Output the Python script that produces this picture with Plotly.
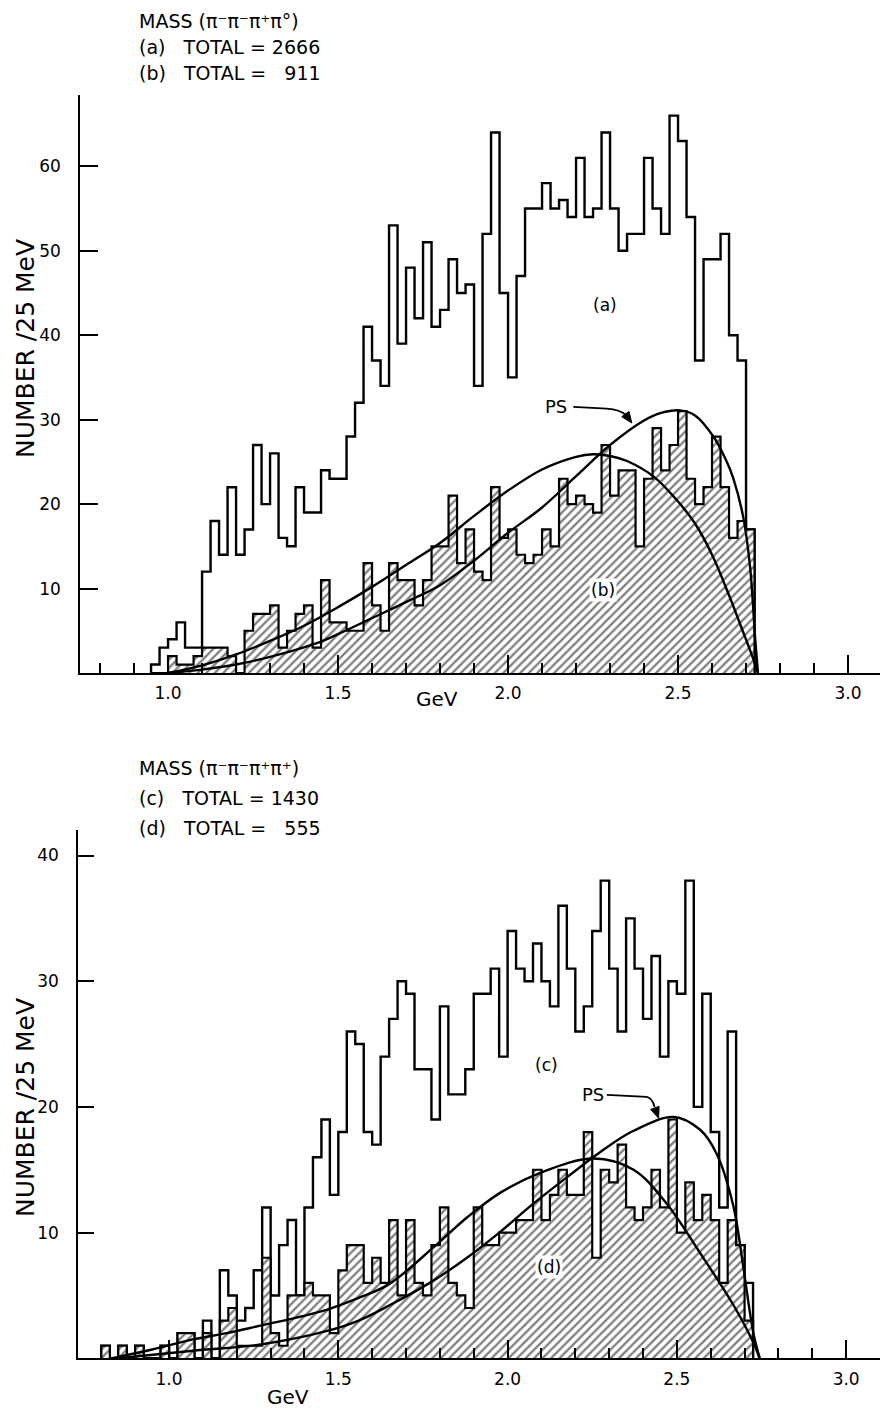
import plotly.graph_objects as go

# ---------------- data ----------------
BIN_WIDTH = 0.025          # GeV (25 MeV bins)
TOP_START = 0.95           # first bin edge, upper panel
BOT_START = 0.80           # first bin edge, lower panel

# (a) pi- pi- pi+ pi0 , total 2666
a_counts = [1, 3, 4, 6, 3, 3, 12, 18, 14, 22, 14, 17, 27, 20, 26, 16, 15, 22,
            19, 19, 24, 23, 23, 28, 32, 41, 37, 34, 53, 39, 48, 42, 51, 41,
            43, 49, 45, 46, 34, 52, 64, 45, 35, 47, 55, 55, 58, 55, 56, 54,
            61, 54, 55, 64, 55, 50, 52, 52, 61, 55, 52, 66, 63, 54, 37, 49,
            49, 52, 40, 37, 17]
# (b) subset, total 911
b_counts = [0, 0, 2, 1, 1, 2, 3, 3, 3, 2, 0, 5, 7, 7, 8, 3, 5, 7,
            8, 3, 11, 6, 6, 5, 5, 13, 8, 5, 13, 11, 11, 8, 11, 15,
            15, 21, 13, 17, 12, 11, 22, 16, 17, 14, 13, 14, 17, 15, 23, 20,
            21, 20, 19, 27, 21, 24, 24, 15, 23, 29, 24, 27, 31, 23, 20, 22,
            28, 22, 16, 18, 17]
# (c) pi- pi- pi+ pi+ , total 1430
c_counts = [1, 0, 1, 0, 1, 0, 0, 1, 0, 2, 2, 0, 3, 0, 7, 5, 3, 4,
            7, 12, 5, 9, 11, 5, 12, 16, 19, 13, 18, 26, 25, 18, 17, 24,
            27, 30, 29, 23, 23, 19, 28, 21, 21, 23, 29, 29, 31, 24, 34, 31,
            30, 33, 30, 28, 36, 31, 26, 28, 34, 38, 31, 26, 35, 31, 27, 32,
            24, 30, 29, 38, 20, 29, 18, 12, 26, 9, 6]
# (d) subset, total 555
d_counts = [1, 0, 1, 0, 1, 0, 0, 1, 0, 2, 2, 0, 2, 0, 3, 4, 1, 1,
            1, 8, 2, 1, 5, 5, 6, 5, 5, 2, 7, 9, 9, 6, 8, 6,
            11, 5, 11, 6, 5, 9, 12, 6, 5, 4, 12, 9, 9, 10, 10, 11,
            11, 15, 11, 13, 15, 13, 13, 18, 8, 15, 14, 17, 12, 11, 12, 15,
            12, 19, 10, 14, 11, 13, 11, 6, 11, 9, 3]

# smooth curves
top_wide_x = [1.00, 1.10, 1.20, 1.30, 1.40, 1.50, 1.60, 1.70, 1.80, 1.90, 2.00, 2.10,
              2.20, 2.25, 2.30, 2.35, 2.43, 2.50, 2.55, 2.60, 2.65, 2.69, 2.72, 2.735]
top_wide_y = [0.0, 0.9, 2.2, 3.8, 5.6, 7.8, 10.2, 12.8, 15.4, 18.6, 21.6, 24.1,
              25.6, 25.9, 25.7, 25.1, 23.2, 20.3, 17.7, 14.0, 9.2, 5.0, 1.8, 0.0]
top_ps_x = [1.00, 1.10, 1.20, 1.30, 1.435, 1.50, 1.60, 1.70, 1.80, 1.90, 2.00, 2.10,
            2.20, 2.30, 2.40, 2.45, 2.506, 2.55, 2.604, 2.64, 2.663, 2.692, 2.712, 2.727, 2.735]
top_ps_y = [0.0, 0.4, 1.0, 1.9, 3.5, 4.6, 6.5, 8.4, 10.4, 13.3, 16.6, 19.6,
            23.3, 27.0, 29.9, 30.8, 31.1, 30.5, 28.0, 25.3, 23.0, 18.4, 12.5, 4.0, 0.0]
bot_wide_x = [0.83, 0.95, 1.07, 1.17, 1.27, 1.37, 1.47, 1.56, 1.65, 1.78, 1.88, 1.98,
              2.10, 2.254, 2.372, 2.47, 2.568, 2.67, 2.73, 2.744]
bot_wide_y = [0.0, 0.7, 1.5, 2.0, 2.6, 3.2, 3.9, 4.8, 5.9, 8.8, 11.2, 13.2,
              14.8, 15.9, 15.0, 12.3, 8.4, 4.1, 1.0, 0.0]
bot_ps_x = [0.85, 1.07, 1.27, 1.47, 1.56, 1.65, 1.77, 1.88, 1.98, 2.076, 2.18, 2.273,
            2.372, 2.49, 2.568, 2.617, 2.667, 2.696, 2.726, 2.745]
bot_ps_y = [0.0, 0.6, 1.1, 2.2, 3.0, 4.2, 6.0, 8.0, 10.1, 12.3, 14.5, 16.4,
            18.1, 19.2, 18.2, 16.3, 12.1, 7.3, 2.0, 0.0]

x_tick_vals = [1.0, 1.5, 2.0, 2.5, 3.0]
x_tick_text = ["1.0", "1.5", "2.0", "2.5", "3.0"]
top_y_ticks = [10, 20, 30, 40, 50, 60]
bot_y_ticks = [10, 20, 30, 40]

# ---------------- layout geometry (pixels) ----------------
W, H = 882, 1412
FONT = "DejaVu Sans"
TOP_X_RANGE = [0.741, 3.094]
TOP_Y_RANGE = [0, 68.44]
BOT_X_RANGE = [0.731, 3.100]
BOT_Y_RANGE = [0, 42.03]
TOP_PIX = dict(x0=80, x1=880, y0=673, y1=95)
BOT_PIX = dict(x0=78, x1=880, y0=1358.3, y1=830)


def step_xy(start, counts):
    edges = [start + i * BIN_WIDTH for i in range(len(counts) + 1)]
    xs = [edges[0]] + edges[:-1] + [edges[-1]]
    ys = [0] + list(counts) + [0]
    return xs, ys


def py(px):
    return 1 - px / H


def px_(p):
    return p / W


fig = go.Figure()
hatch = dict(shape="/", fgcolor="black", bgcolor="white", size=6, solidity=0.38)

for (start, outer, inner, xa, ya, curves) in [
    (TOP_START, a_counts, b_counts, "x", "y",
     [(top_wide_x, top_wide_y), (top_ps_x, top_ps_y)]),
    (BOT_START, c_counts, d_counts, "x2", "y2",
     [(bot_wide_x, bot_wide_y), (bot_ps_x, bot_ps_y)]),
]:
    ox, oy = step_xy(start, outer)
    fig.add_trace(go.Scatter(x=ox, y=oy, mode="lines", line_shape="hv",
                             line=dict(color="black", width=2.4),
                             xaxis=xa, yaxis=ya, hoverinfo="skip"))
    ix, iy = step_xy(start, inner)
    fig.add_trace(go.Scatter(x=ix, y=iy, mode="lines", line_shape="hv",
                             fill="tozeroy", fillcolor="white", fillpattern=hatch,
                             line=dict(color="black", width=2.2),
                             xaxis=xa, yaxis=ya, hoverinfo="skip"))
    for cx, cy in curves:
        fig.add_trace(go.Scatter(x=cx, y=cy, mode="lines", line_shape="spline",
                                 line=dict(color="black", width=2.4, smoothing=1.0),
                                 xaxis=xa, yaxis=ya, hoverinfo="skip"))

axis_common = dict(showgrid=False, zeroline=False, showline=True, linecolor="black",
                   ticks="inside", tickcolor="black",
                   tickfont=dict(family=FONT, size=17, color="black"))
minor = dict(dtick=0.1, tick0=0, ticklen=10, tickwidth=1.5, ticks="inside",
             tickcolor="black")

fig.update_layout(
    width=W, height=H, margin=dict(l=0, r=0, t=0, b=0),
    paper_bgcolor="white", plot_bgcolor="rgba(0,0,0,0)", showlegend=False,
    xaxis=dict(domain=[px_(TOP_PIX["x0"]), px_(TOP_PIX["x1"])], range=TOP_X_RANGE,
               anchor="y", linewidth=2, tickwidth=2, ticklen=18,
               tickvals=x_tick_vals, ticktext=x_tick_text, minor=minor,
               ticklabelstandoff=4, **axis_common),
    yaxis=dict(domain=[py(TOP_PIX["y0"]), py(TOP_PIX["y1"])], range=TOP_Y_RANGE,
               anchor="x", linewidth=1.5, tickwidth=1.5, ticklen=18,
               tickvals=top_y_ticks, ticklabelstandoff=14, **axis_common),
    xaxis2=dict(domain=[px_(BOT_PIX["x0"]), px_(BOT_PIX["x1"])], range=BOT_X_RANGE,
                anchor="y2", linewidth=2, tickwidth=2, ticklen=18,
                tickvals=x_tick_vals, ticktext=x_tick_text, minor=minor,
                ticklabelstandoff=4, **axis_common),
    yaxis2=dict(domain=[py(BOT_PIX["y0"]), py(BOT_PIX["y1"])], range=BOT_Y_RANGE,
                anchor="x2", linewidth=1.5, tickwidth=1.5, ticklen=16,
                tickvals=bot_y_ticks, ticklabelstandoff=14, **axis_common),
)

ann = []


def text(x, y, t, size=17, xanchor="left", xref="paper", yref="paper", **kw):
    ann.append(dict(x=x, y=y, xref=xref, yref=yref, text=t, showarrow=False,
                    xanchor=xanchor, yanchor="middle",
                    font=dict(family=FONT, size=size, color="black"), **kw))


NB = "\u00a0"
text(px_(137), py(21), "MASS (π⁻π⁻π⁺π°)", size=19)
text(px_(137), py(47), "(a)" + NB * 3 + "TOTAL = 2666", size=19)
text(px_(137), py(73), "(b)" + NB * 3 + "TOTAL =" + NB * 3 + "911", size=19)
text(px_(137), py(768), "MASS (π⁻π⁻π⁺π⁺)", size=19)
text(px_(137), py(798), "(c)" + NB * 3 + "TOTAL = 1430", size=19)
text(px_(137), py(828), "(d)" + NB * 3 + "TOTAL =" + NB * 3 + "555", size=19)

text(px_(25), py(349), "NUMBER /25 MeV", size=25, xanchor="center", textangle=-90)
text(px_(25), py(1108), "NUMBER /25 MeV", size=25, xanchor="center", textangle=-90)
text(px_(437), py(699), "GeV", size=20, xanchor="center")
text(px_(288), py(1397), "GeV", size=20, xanchor="center")

text(2.285, 43.6, "(a)", size=17, xanchor="center", xref="x", yref="y")
text(2.280, 9.8, "(b)", size=17, xanchor="center", xref="x", yref="y",
     bgcolor="white")
text(2.116, 23.3, "(c)", size=17, xanchor="center", xref="x2", yref="y2")
text(2.121, 7.3, "(d)", size=17, xanchor="center", xref="x2", yref="y2",
     bgcolor="white")
text(2.140, 31.5, "PS", size=18, xanchor="center", xref="x", yref="y")
text(2.251, 20.95, "PS", size=18, xanchor="center", xref="x2", yref="y2")
fig.update_layout(annotations=ann)


def arrow(xref, yref, pts, tip, tail, xr, yr, pix, head=11, half=4.5):
    """Leader line from the PS label plus a filled triangular head."""
    sx = (pix["x1"] - pix["x0"]) / (xr[1] - xr[0])
    sy = (pix["y0"] - pix["y1"]) / (yr[1] - yr[0])
    path = "M " + " L ".join(f"{x},{y}" for x, y in pts[:2])
    path += f" Q {pts[2][0]},{pts[2][1]} {tail[0]},{tail[1]}"
    fig.add_shape(type="path", xref=xref, yref=yref, path=path,
                  line=dict(color="black", width=1.8))
    dx = (tip[0] - tail[0]) * sx
    dy = (tip[1] - tail[1]) * sy
    n = (dx * dx + dy * dy) ** 0.5
    ux, uy = dx / n, dy / n
    bx, by = -head * ux, -head * uy
    p1 = (tip[0] + (bx - half * uy) / sx, tip[1] + (by + half * ux) / sy)
    p2 = (tip[0] + (bx + half * uy) / sx, tip[1] + (by - half * ux) / sy)
    tri = f"M {tip[0]},{tip[1]} L {p1[0]},{p1[1]} L {p2[0]},{p2[1]} Z"
    fig.add_shape(type="path", xref=xref, yref=yref, path=tri,
                  fillcolor="black", line=dict(color="black", width=1))


arrow("x", "y", [(2.192, 31.5), (2.29, 31.3), (2.33, 31.2)],
      (2.364, 29.6), (2.348, 30.5), TOP_X_RANGE, TOP_Y_RANGE, TOP_PIX)
arrow("x2", "y2", [(2.293, 20.95), (2.411, 20.8), (2.428, 20.7)],
      (2.446, 19.1), (2.434, 20.0), BOT_X_RANGE, BOT_Y_RANGE, BOT_PIX)

fig.write_html("out.html")
